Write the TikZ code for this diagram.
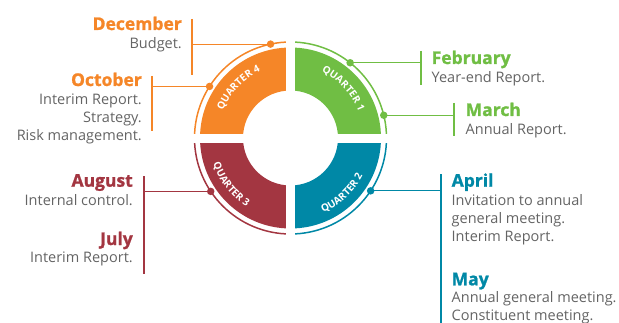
\documentclass[tikz,border=0pt]{standalone}
\usepackage{fontspec}
\setmainfont{Open Sans}
\newfontfamily\monthfont[BoldFeatures={FakeBold=1.2}]{Open Sans}
\usetikzlibrary{calc,decorations.text}
\definecolor{qgreen}{RGB}{112,190,68}
\definecolor{qteal}{RGB}{0,136,166}
\definecolor{qred}{RGB}{163,54,65}
\definecolor{qorange}{RGB}{245,134,40}
\definecolor{txtgray}{RGB}{100,100,100}
\def\quartersector[#1](#2)(#3:#4){\fill[#1] ($(#2)+(#3:90.5)$) arc (#3:#4:90.5) -- ($(#2)+(#4:47.5)$) arc (#4:#3:47.5) -- cycle;}
\def\quarterarc[#1](#2)(#3:#4){\draw[#1] ($(#2)+(#3:96)$) arc (#3:#4:96);}
\def\quarterlabel(#1)(#2:#3:#4)#5{\path[decorate, decoration={text along path, text align=center, text color=white, text={|\bfseries\fontsize{10}{12}\selectfont|#5}}] ($(#1)+(#2:#4)$) arc (#2:#3:#4);}
\tikzset{
	month/.style={font=\monthfont\bfseries\fontsize{17.5}{20}\selectfont, inner sep=0pt},
	note/.style={font=\fontsize{14.5}{17.8}\selectfont, text=txtgray, inner sep=0pt},
	dot/.style={circle, fill, inner sep=0pt, minimum size=7.5pt},
	link/.style={line width=1.1pt}
}

\begin{document}
\begin{tikzpicture}[x=1pt, y=1pt]
			%%%%% START %%%%%
			\useasboundingbox (0, 0) rectangle (619, 322);
			\coordinate (C) at (290.5, 184);
			
			% ring
			\quartersector[qgreen](C)(0:90)
			\quartersector[qorange](C)(90:180)
			\quartersector[qred](C)(180:270)
			\quartersector[qteal](C)(270:360)
			\quarterarc[qgreen, line width=1.5pt](C)(0:90)
			\quarterarc[qorange, line width=1.5pt](C)(90:180)
			\quarterarc[qred, line width=1.5pt](C)(180:270)
			\quarterarc[qteal, line width=1.5pt](C)(270:360)
			\fill[white] ($(C)+(-4.25, -102)$) rectangle ($(C)+(4.25, 102)$);
			\fill[white] ($(C)+(-102, -4.5)$) rectangle ($(C)+(102, 4.5)$);
			
			% curved quarter labels
			\quarterlabel(C)(83:3:73){QUARTER 1}
			\quarterlabel(C)(176:96:73){QUARTER 4}
			\quarterlabel(C)(178:258:81.5){QUARTER 3}
			\quarterlabel(C)(273:353:81.5){QUARTER 2}
			
			% dots on the outer arc
			\node[dot, qorange] (decDot) at ($(C)+(102:96)$) {};
			\node[dot, qorange] (octDot) at ($(C)+(147.5:96)$) {};
			\node[dot, qgreen] (febDot) at ($(C)+(51.6:96)$) {};
			\node[dot, qgreen] (marDot) at ($(C)+(13.7:96)$) {};
			\node[dot, qred] (augDot) at ($(C)+(213.8:96)$) {};
			\node[dot, qteal] (aprDot) at ($(C)+(-33.4:96)$) {};
			
			% bars
			\coordinate (decTop) at (192, 303);
			\coordinate (decBot) at (192, 247);
			\coordinate (octTop) at (152, 246);
			\coordinate (octBot) at (152, 191);
			\coordinate (augTop) at (144, 146);
			\coordinate (augBot) at (144, 48);
			\coordinate (febTop) at (421, 271);
			\coordinate (febBot) at (421, 237);
			\coordinate (marTop) at (454, 219);
			\coordinate (marBot) at (454, 186);
			\coordinate (aprTop) at (441, 148);
			\coordinate (aprBot) at (441, -8);
			
			\draw[link, qorange] (decTop) -- (decBot);
			\draw[link, qorange] (decDot.center) -- (decDot.center -| decTop);
			\draw[link, qorange] (octTop) -- (octBot);
			\draw[link, qorange] (octDot.center) -- (octDot.center -| octTop);
			\draw[link, qred] (augTop) -- (augBot);
			\draw[link, qred] (augDot.center) -- (augDot.center -| augTop);
			\draw[link, qgreen] (febTop) -- (febBot);
			\draw[link, qgreen] (febDot.center) -- (febDot.center -| febTop);
			\draw[link, qgreen] (marTop) -- (marBot);
			\draw[link, qgreen] (marDot.center) -- (marDot.center -| marTop);
			\draw[link, qteal] (aprTop) -- (aprBot);
			\draw[link, qteal] (aprDot.center) -- (aprDot.center -| aprTop);
			
			% left texts (multi-line notes sit on their last line)
			\node[month, text=qorange, anchor=base east] (dec) at (182, 292) {December};
			\node[note, anchor=base east, align=right] (decNote) at (182, 273) {Budget.};
			\node[month, text=qorange, anchor=base east] (oct) at (142, 236) {October};
			\node[note, anchor=base east, align=right] (octNote) at (142, 181.4) {Interim Report.\\Strategy.\\Risk management.};
			\node[month, text=qred, anchor=base east] (aug) at (133, 135.3) {August};
			\node[note, anchor=base east, align=right] (augNote) at (133, 117) {Internal control.};
			\node[month, text=qred, anchor=base east] (jul) at (133, 77) {July};
			\node[note, anchor=base east, align=right] (julNote) at (133, 59.3) {Interim Report.};
			
			% right texts
			\node[month, text=qgreen, anchor=base west] (feb) at (431.5, 258) {February};
			\node[note, anchor=base west, align=left] (febNote) at (431.5, 239.3) {Year-end Report.};
			\node[month, text=qgreen, anchor=base west] (mar) at (465.5, 206) {March};
			\node[note, anchor=base west, align=left] (marNote) at (465.5, 188) {Annual Report.};
			\node[month, text=qteal, anchor=base west] (apr) at (451.5, 135.3) {April};
			\node[note, anchor=base west, align=left] (aprNote) at (451.5, 80.7) {Invitation to annual\\general meeting.\\Interim Report.};
			\node[month, text=qteal, anchor=base west] (may) at (451.5, 36.7) {May};
			\node[note, anchor=base west, align=left] (mayNote) at (451.5, 2) {Annual general meeting.\\Constituent meeting.};
			
			%%%%% END %%%%%
\end{tikzpicture}
\end{document}
